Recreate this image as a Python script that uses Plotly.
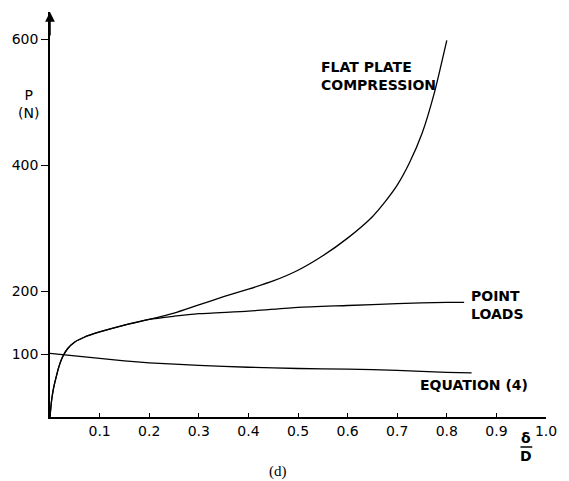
import plotly.graph_objects as go

# Load P (N) against relative deflection delta/D
flat_x = [0, 0.003, 0.007, 0.012, 0.018, 0.025, 0.035, 0.05, 0.07, 0.1, 0.15, 0.2,
          0.25, 0.3, 0.35, 0.4, 0.45, 0.5, 0.55, 0.6, 0.65, 0.675, 0.7, 0.725, 0.75,
          0.775, 0.8]
flat_p = [0, 25, 45, 62, 80, 95, 108, 119, 127, 135, 146, 155,
          165, 178, 191, 203, 216, 233, 256, 284, 318, 341, 368, 404, 450,
          515, 598]

point_x = [0, 0.003, 0.007, 0.012, 0.018, 0.025, 0.035, 0.05, 0.07, 0.1, 0.15, 0.2,
           0.25, 0.3, 0.4, 0.5, 0.6, 0.7, 0.8, 0.835]
point_p = [0, 25, 45, 62, 80, 95, 108, 119, 127, 135, 146, 155,
           160, 164, 168, 174, 177, 180, 182, 182]

eq_x = [0, 0.05, 0.1, 0.15, 0.2, 0.3, 0.4, 0.5, 0.6, 0.7, 0.8, 0.85]
eq_p = [101, 97, 93, 89, 86, 82, 79, 77, 76, 74, 71, 70]

x_ticks = [0.1, 0.2, 0.3, 0.4, 0.5, 0.6, 0.7, 0.8, 0.9, 1.0]
x_tick_text = ["0.1", "0.2", "0.3", "0.4", "0.5", "0.6", "0.7", "0.8", "0.9", "1.0"]
y_ticks = [100, 200, 400, 600]

FONT = "DejaVu Sans, sans-serif"
line = dict(color="black", width=1.3, shape="spline", smoothing=0.6)

fig = go.Figure()
for xs, ps in [(flat_x, flat_p), (point_x, point_p), (eq_x, eq_p)]:
    fig.add_trace(go.Scatter(x=xs, y=ps, mode="lines", line=line,
                             hoverinfo="skip", showlegend=False))

# plot area in page pixels: x 48..553, y 12..417
L, R, T, B = 48, 16, 12, 64
W, H = 569, 481
PW, PH = W - L - R, H - T - B

fig.update_layout(
    width=W, height=H,
    margin=dict(l=L, r=R, t=T, b=B),
    paper_bgcolor="white", plot_bgcolor="white",
    font=dict(family=FONT, size=14, color="black"),
    xaxis=dict(range=[0, 1.0], showgrid=False, zeroline=False,
               showline=True, linecolor="black", linewidth=1.5,
               ticks="inside", ticklen=4, tickwidth=1.3, tickcolor="black",
               tickvals=x_ticks, ticktext=x_tick_text,
               tickfont=dict(family=FONT, size=14)),
    yaxis=dict(range=[0, 643], showgrid=False, zeroline=False,
               showline=True, linecolor="black", linewidth=1.5,
               ticks="outside", ticklen=7, tickwidth=1.3, tickcolor="black",
               tickvals=y_ticks, ticklabelstandoff=0,
               tickfont=dict(family=FONT, size=14)),
)

# arrow head on the load axis
fig.add_annotation(x=0, y=643, xref="x", yref="y", ax=0, ay=25,
                   showarrow=True, arrowhead=2, arrowsize=1.3, arrowwidth=1.5,
                   arrowcolor="black", text="")


def label(px, py, text, xanchor="center", size=14, family=FONT):
    """Free text placed by page pixel position."""
    fig.add_annotation(x=(px - L) / PW, y=(H - B - py) / PH,
                       xref="paper", yref="paper", text=text,
                       xanchor=xanchor, yanchor="middle",
                       align="left" if xanchor == "left" else "center",
                       showarrow=False,
                       font=dict(family=family, size=size, color="black"))


label(26, 104, "P<br>(N)")
label(322, 76, "<b>FLAT PLATE<br>COMPRESSION</b>", xanchor="left")
label(475, 305, "<b>POINT<br>LOADS</b>", xanchor="left")
label(423, 385, "<b>EQUATION (4)</b>", xanchor="left")
label(533, 438, "<b>δ</b>")
label(533, 456, "<b>D</b>")
label(280, 471, "(d)", size=15, family="Liberation Serif, Times New Roman, serif")

fig.add_shape(type="line", xref="paper", yref="paper",
              x0=(527 - L) / PW, x1=(539 - L) / PW,
              y0=(H - B - 447) / PH, y1=(H - B - 447) / PH,
              line=dict(color="black", width=1.5))

fig.write_html("out.html")
